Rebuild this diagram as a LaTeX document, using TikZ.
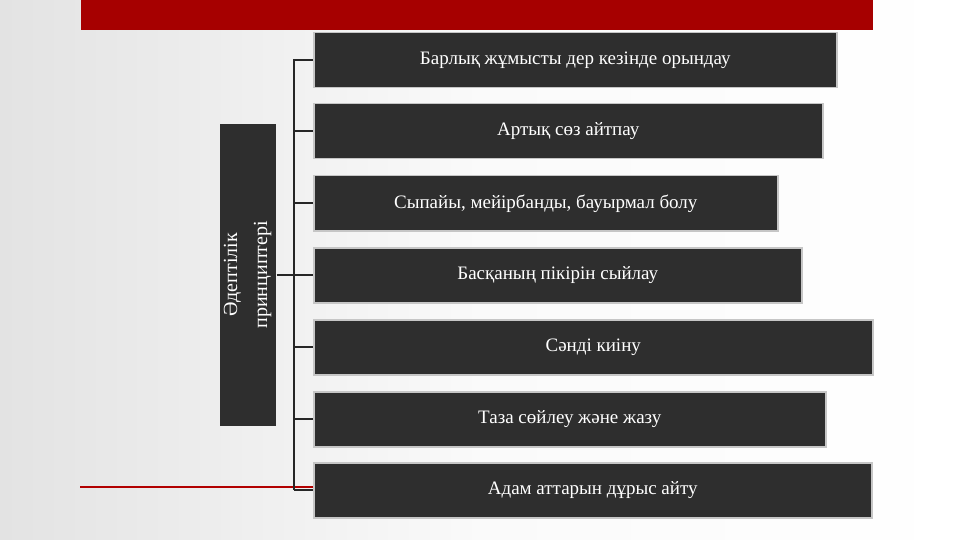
\documentclass[tikz,border=0pt]{standalone}
\usepackage{fontspec}
\setmainfont{Liberation Serif}
\begin{document}
\begin{tikzpicture}[x=1pt,y=-1pt,
  bx/.style={draw=gray!45,line width=1.5pt,fill=black!82,text=white,font=\fontsize{19}{22}\selectfont},
  ln/.style={line width=1.6pt,black!85}]
\shade[left color=gray!22,right color=white,middle color=gray!4] (0,0) rectangle (960,540);
\useasboundingbox (0,0) rectangle (960,540);
\fill[red!65!black] (81,0) rectangle (873,30);
\coordinate (ra) at (80,487); \coordinate (rb) at (313,487);
\draw[red!70!black,line width=1.5pt] (ra) -- (rb);
\node[bx,draw=none,minimum width=56,minimum height=302,anchor=north west,inner sep=0] (L) at (219,123) {};
\node[rotate=90,text=white,align=center,font=\fontsize{20}{30}\selectfont] at (L.center) {Әдептілік\\принциптері};
\foreach \i/\xa/\ya/\xb/\t in {1/313/32/836/Барлық жұмысты дер кезінде орындау,
 2/313/103/822/Артық сөз айтпау,
 3/313/175/777/{Сыпайы, мейірбанды, бауырмал болу},
 4/313/247/801/Басқаның пікірін сыйлау,
 5/313/319/872/Сәнді киіну,
 6/313/391/825/Таза сөйлеу және жазу,
 7/313/462/871/Адам аттарын дұрыс айту}{
  \node[bx,minimum width={\xb-\xa},minimum height=55,anchor=north west,inner sep=0] (b\i) at (\xa,\ya) {\t};
}
\coordinate (top) at (294,59.5); \coordinate (bot) at (294,489.5);
\draw[ln] (top) -- (bot);
\foreach \i in {1,...,7}{\draw[ln] (b\i.west -| top) -- (b\i.west);}
\draw[ln] (L.east) -- (L.east -| top);
\end{tikzpicture}
\end{document}
